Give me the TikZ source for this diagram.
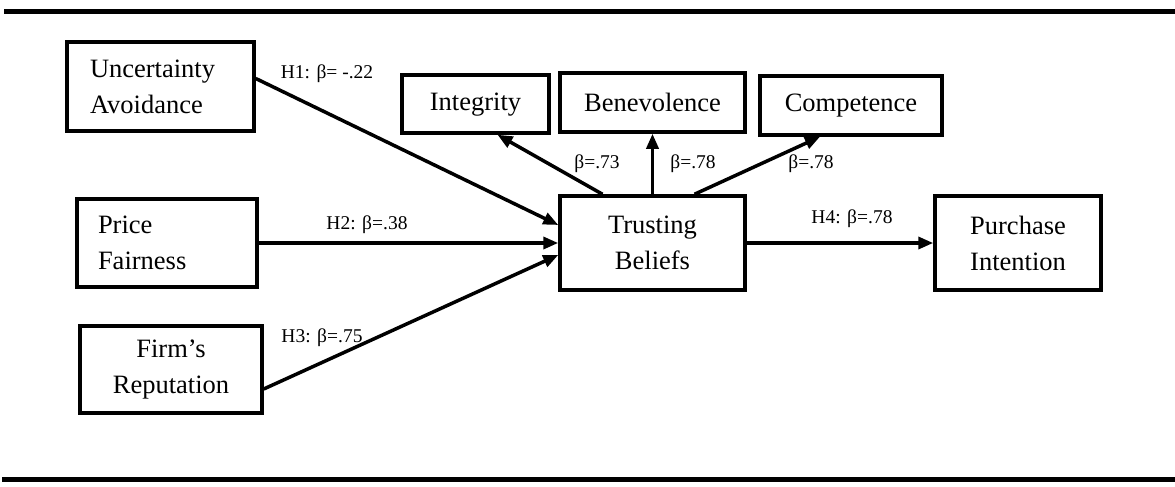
\documentclass[tikz,border=0pt]{standalone}
\usepackage{fontspec}
\setmainfont{Liberation Serif}
\usetikzlibrary{arrows.meta,positioning}

\begin{document}
\begin{tikzpicture}[x=1pt,y=-1pt,box/.style={draw,line width=3.5pt,inner sep=0pt,align=center,font=\fontsize{26.5}{36}\selectfont},lab/.style={inner sep=0pt,font=\fontsize{19.5}{22}\selectfont},>={Triangle[length=15pt,width=12pt]}]
\useasboundingbox (0,0) rectangle (1175,487);
\draw[line width=5pt] (4,12) -- (1175,12);
\draw[line width=5pt] (2,479.5) -- (1175,479.5);
\node[box,minimum width=187pt,minimum height=89pt] (ua) at (160.5,86.5) {\begin{minipage}{141pt}Uncertainty\\Avoidance\end{minipage}};
\node[box,minimum width=180pt,minimum height=88pt] (pf) at (167,243) {\begin{minipage}{138pt}Price\\Fairness\end{minipage}};
\node[box,minimum width=182pt,minimum height=87pt] (fr) at (171,369.5) {Firm’s\\Reputation};
\node[box,minimum width=147pt,minimum height=58pt,text depth=4pt] (int) at (475.5,104) {Integrity};
\node[box,minimum width=185pt,minimum height=59pt] (ben) at (652.5,102.5) {Benevolence};
\node[box,minimum width=182pt,minimum height=59pt] (com) at (851,105.5) {Competence};
\node[box,minimum width=185pt,minimum height=94pt] (tb) at (652.5,243) {Trusting\\Beliefs};
\node[box,minimum width=166pt,minimum height=94pt] (pi) at (1018,243) {Purchase\\Intention};
\draw[->,line width=3.5pt] ([yshift=8pt]ua.east) -- ([yshift=18pt]tb.west);
\draw[->,line width=3.5pt] (pf) -- (tb);
\draw[->,line width=3.5pt] ([yshift=-19.5pt]fr.east) -- ([yshift=-12pt]tb.west);
\draw[->,line width=3.5pt] (tb) -- (pi);
\draw[->,line width=3.5pt] ([xshift=-50pt]tb.north) -- ([xshift=22pt]int.south);
\draw[->,line width=3.5pt] (tb) -- (ben);
\draw[->,line width=3.5pt] ([xshift=42pt]tb.north) -- ([xshift=-31pt]com.south);
\node[lab] (h1) at (327,74) {H1: β= -.22};
\node[lab] (h2) at (367,225) {H2: β=.38};
\node[lab] (h3) at (322,338) {H3: β=.75};
\node[lab] (h4) at (852,219) {H4: β=.78};
\node[lab] (b1) at (597,164) {β=.73};
\node[lab] (b2) at (693,164) {β=.78};
\node[lab] (b3) at (811,164) {β=.78};
\end{tikzpicture}
\end{document}
